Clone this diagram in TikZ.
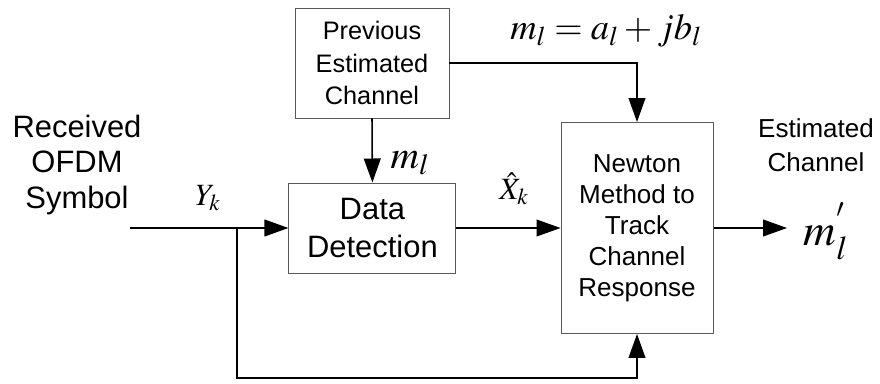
\documentclass[tikz,border=0pt]{standalone}
\usepackage{mathptmx}
\usepackage[no-math]{fontspec}
\setmainfont{Liberation Sans}
\usetikzlibrary{positioning,arrows.meta}
\tikzset{
	blk/.style={draw=black!65, line width=0.7pt, align=center, inner sep=0pt},
	sig/.style={line width=1.1pt, -{Triangle[length=0.6cm,width=0.42cm]}},
	lbl/.style={align=center, inner sep=0pt}
}

\begin{document}
\begin{tikzpicture}
	\useasboundingbox (0,0) rectangle (22,9.575);
	
	% draw blocks
	\node[blk, minimum width=3.85cm, minimum height=2.75cm, font=\fontsize{18}{23}\selectfont] (prev) at (9.3,8.0) {Previous\\Estimated\\Channel};
	\node[blk, minimum width=4.175cm, minimum height=2.25cm, font=\fontsize{22}{27}\selectfont] (detect) at (9.31,3.875) {Data\\Detection};
	\node[blk, minimum width=3.8cm, minimum height=5.275cm, font=\fontsize{18.5}{22}\selectfont] (newton) at (15.925,3.875) {Newton\\Method to\\Track\\Channel\\Response};
	
	% draw free ends
	\coordinate (in) at (3.25,3.875);
	\coordinate (br) at (5.925,3.875);
	\coordinate (low) at (5.925,0.125);
	\coordinate (out) at (19.675,3.875);
	
	% draw connectors
	\draw[sig] (in) -- (detect.west);
	\draw[sig] (br) -- (low) -| (newton.south);
	\draw[sig] (detect.east) -- (newton.west);
	\draw[sig] (prev.south) -- (detect.north);
	\draw[sig] (prev.east) -| (newton.north);
	\draw[sig] (newton.east) -- (out);
	
	% draw labels
	\node[lbl, font=\fontsize{22}{24.9}\selectfont] (rx) at (1.925,5.45) {Received\\OFDM\\Symbol};
	\node[lbl, font=\fontsize{18.5}{24}\selectfont] (est) at (20.4,5.95) {Estimated\\Channel};
	\node[lbl, font=\fontsize{22}{24}\selectfont] (yk) at (5.2,4.62) {$Y_k$};
	\node[lbl, font=\fontsize{22}{24}\selectfont] (xk) at (12.85,4.85) {$\hat{X}_k$};
	\node[lbl, font=\fontsize{28}{30}\selectfont] (ml) at (10.25,5.5) {$m_l$};
	\node[lbl, font=\fontsize{26}{28}\selectfont] (eq) at (15.15,8.8) {$m_l = a_l + jb_l$};
	\node[lbl, font=\fontsize{32}{34}\selectfont] (mout) at (20.65,3.8) {$m_l^{'}$};
	
\end{tikzpicture}
\end{document}
